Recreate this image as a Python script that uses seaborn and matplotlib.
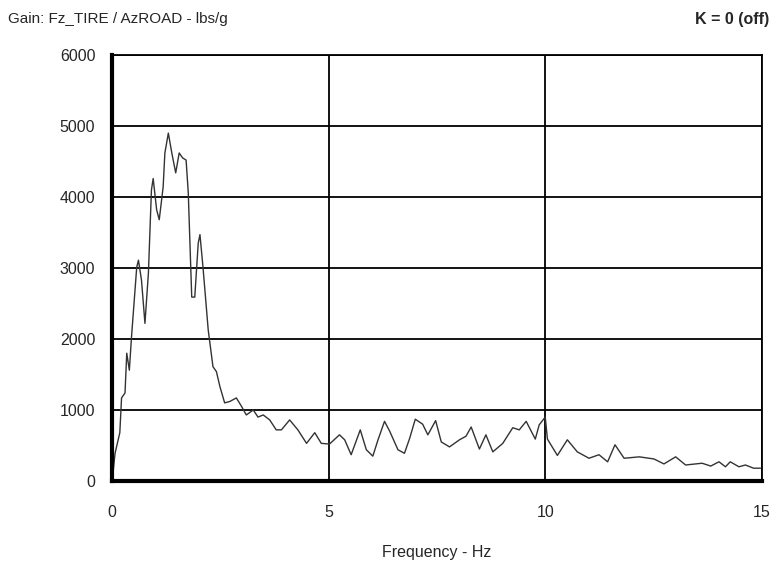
import numpy as np
import pandas as pd
import matplotlib
matplotlib.use("Agg")
import matplotlib.pyplot as plt
from matplotlib.ticker import MultipleLocator
import seaborn as sns

# ganho (frequencia em Hz, ganho em lbs/g)
freq = [0.03, 0.07, 0.18, 0.22, 0.30, 0.34, 0.40, 0.45, 0.57, 0.61, 0.68, 0.76,
        0.84, 0.91, 0.95, 1.03, 1.09, 1.18, 1.22, 1.30, 1.38, 1.47, 1.55, 1.63,
        1.71, 1.76, 1.84, 1.91, 1.99, 2.03, 2.10, 2.22, 2.33, 2.41, 2.49, 2.60,
        2.72, 2.87, 2.99, 3.10, 3.26, 3.37, 3.49, 3.64, 3.79, 3.91, 4.10, 4.29,
        4.49, 4.68, 4.83, 5.02, 5.25, 5.37, 5.52, 5.73, 5.87, 6.02, 6.14, 6.29,
        6.41, 6.60, 6.75, 6.87, 7.00, 7.17, 7.29, 7.47, 7.60, 7.79, 8.02, 8.17,
        8.29, 8.48, 8.63, 8.79, 9.02, 9.25, 9.40, 9.56, 9.77, 9.86, 10.00, 10.05,
        10.28, 10.51, 10.74, 11.01, 11.24, 11.44, 11.61, 11.82, 12.17, 12.51, 12.74,
        13.01, 13.24, 13.62, 13.82, 14.01, 14.16, 14.27, 14.47, 14.62, 14.81, 14.97]
gain = [155, 390, 680, 1170, 1240, 1800, 1560, 2030, 3010, 3110, 2830, 2220,
        2930, 4100, 4260, 3820, 3680, 4140, 4620, 4900, 4620, 4340, 4620, 4550,
        4520, 4060, 2590, 2590, 3350, 3470, 3010, 2130, 1610, 1540, 1330, 1100,
        1120, 1170, 1050, 930, 1000, 900, 930, 860, 720, 720, 860, 720,
        530, 680, 530, 520, 650, 580, 370, 720, 440, 350, 580, 840,
        700, 440, 390, 600, 870, 800, 650, 850, 550, 480, 580, 630,
        760, 450, 650, 410, 530, 750, 720, 840, 590, 790, 900, 590,
        360, 580, 410, 320, 370, 270, 510, 320, 340, 310, 240,
        340, 225, 250, 210, 270, 200, 270, 200, 225, 180, 180]

x_ticks = [0, 5, 10, 15]
y_ticks = [0, 1000, 2000, 3000, 4000, 5000, 6000]

dados = pd.DataFrame({"freq": freq, "gain": gain})

sns.set_style("white")
plt.rcParams["font.family"] = ["Liberation Sans", "DejaVu Sans"]

fig = plt.figure(figsize=(7.79, 5.73), dpi=100)
ax = fig.add_axes([0.1438, 0.1606, 0.8342, 0.7434])

sns.lineplot(data=dados, x="freq", y="gain", ax=ax, color="#333333", linewidth=1.0)

ax.set_xlim(0, 15)
ax.set_ylim(0, 6000)
ax.set_xticks(x_ticks)
ax.set_yticks(y_ticks)
ax.xaxis.set_minor_locator(MultipleLocator(1))
ax.yaxis.set_minor_locator(MultipleLocator(200))
ax.grid(True, which="major", color="black", linewidth=1.3)
ax.tick_params(which="major", length=3, width=1, labelsize=11.5)
ax.tick_params(axis="x", which="major", pad=14)
ax.tick_params(axis="y", which="major", pad=9)
ax.tick_params(which="minor", length=2, width=1)

for s in ["top", "right"]:
    ax.spines[s].set_linewidth(1.3)
for s in ["left", "bottom"]:
    ax.spines[s].set_linewidth(3.0)
for s in ax.spines.values():
    s.set_color("black")

ax.set_xlabel("Frequency - Hz", fontsize=11.5, labelpad=18)
ax.set_ylabel("")

fig.text(0.010, 0.966, "Gain: Fz_TIRE / AzROAD - lbs/g", fontsize=11, va="center", ha="left")
fig.text(0.988, 0.966, "K = 0 (off)", fontsize=11.5, fontweight="bold", va="center", ha="right")

fig.savefig("out.png", dpi=100)
